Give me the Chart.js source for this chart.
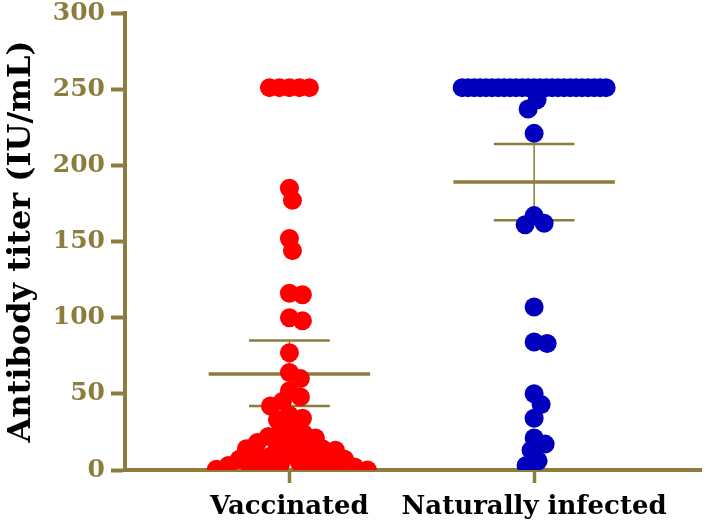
<!DOCTYPE html>
<html>
<head>
<meta charset="utf-8">
<script src="https://cdn.jsdelivr.net/npm/chart.js@4"></script>
<style>
  body { margin: 0; background: #fff; }
</style>
</head>
<body>
<canvas id="myChart" width="711" height="525"></canvas>
<script>
const categories = ['Vaccinated', 'Naturally infected'];

// antibody titers (values above range shown as 251)
const vaccinated = [
  251, 251, 251, 251, 251,
  185, 177, 152, 144, 116, 115, 100, 98, 77, 64, 60, 52, 48, 45, 42,
  36, 34, 33, 28, 25, 24, 22, 21, 19, 18, 16, 15, 14, 14, 13, 10, 10,
  9, 8, 7, 7, 6, 5, 4, 3, 2, 2, 1, 1, 1, 0.5, 0
];
const naturallyInfected = [
  251, 251, 251, 251, 251, 251, 251, 251, 251, 251, 251, 251, 251,
  251, 251, 251, 251, 251, 251, 251, 251, 251, 251, 251, 251,
  243, 237, 221, 167, 162, 161, 107, 84, 83, 50, 43, 34, 21, 17, 13, 6, 3
];

// mean and error bar ends for each group
const means = [63, 189];
const errLow = [42, 164];
const errHigh = [85, 214];

const yTicks = [0, 50, 100, 150, 200, 250, 300];

const olive = '#8c7d3c';
const groupColors = ['#ff0000', '#0000bd'];

Chart.defaults.font.family = "'DejaVu Serif', serif";

// simple beeswarm: equal values in a row, the rest pushed sideways until they fit
const swarm = (values, yScale) => {
  const gap = 12.5;
  const maxHalf = 72;
  const offs = new Array(values.length).fill(0);
  const placed = [];
  const counts = {};
  values.forEach(v => counts[v] = (counts[v] || 0) + 1);
  const done = new Set();
  Object.keys(counts).forEach(key => {
    const n = counts[key];
    if (n < 5) return;
    const sp = Math.min(10, 2 * maxHalf / (n - 1));
    let k = 0;
    values.forEach((v, i) => {
      if (String(v) !== key) return;
      offs[i] = (k - (n - 1) / 2) * sp;
      placed.push({ x: offs[i], y: yScale.getPixelForValue(v) });
      done.add(i);
      k++;
    });
  });
  const order = values.map((v, i) => i).filter(i => !done.has(i)).sort((a, b) => values[b] - values[a]);
  order.forEach(i => {
    const py = yScale.getPixelForValue(values[i]);
    for (let s = 0; s < 300; s++) {
      const dx = s % 2 ? (s + 1) / 2 : -s / 2;
      if (placed.every(p => Math.hypot(p.x - dx, p.y - py) >= gap)) {
        offs[i] = dx;
        placed.push({ x: dx, y: py });
        break;
      }
    }
  });
  return offs;
};

const errorBars = {
  id: 'errorBars',
  beforeDatasetsDraw(chart) {
    const { ctx, scales: { x, y } } = chart;
    const line = (x1, y1, x2, y2, w) => {
      ctx.lineWidth = w;
      ctx.beginPath();
      ctx.moveTo(x1, y1);
      ctx.lineTo(x2, y2);
      ctx.stroke();
    };
    ctx.save();
    ctx.strokeStyle = olive;
    means.forEach((m, i) => {
      const cx = x.getPixelForValue(i);
      line(x.getPixelForValue(i - 0.33), y.getPixelForValue(m), x.getPixelForValue(i + 0.33), y.getPixelForValue(m), 3.5);
      line(x.getPixelForValue(i - 0.165), y.getPixelForValue(errLow[i]), x.getPixelForValue(i + 0.165), y.getPixelForValue(errLow[i]), 2.5);
      line(x.getPixelForValue(i - 0.165), y.getPixelForValue(errHigh[i]), x.getPixelForValue(i + 0.165), y.getPixelForValue(errHigh[i]), 2.5);
      line(cx, y.getPixelForValue(errLow[i]), cx, y.getPixelForValue(errHigh[i]), 1.5);
    });
    ctx.restore();
  }
};

const groups = [vaccinated, naturallyInfected];

const chart = new Chart(document.getElementById('myChart'), {
  type: 'scatter',
  data: {
    datasets: groups.map((vals, i) => ({
      label: categories[i],
      data: vals.map(v => ({ x: i, y: v })),
      backgroundColor: groupColors[i],
      borderColor: groupColors[i],
      borderWidth: 0,
      pointRadius: 9.5,
      pointHoverRadius: 9.5
    }))
  },
  options: {
    responsive: false,
    animation: false,
    layout: { padding: { top: 13, right: 4, bottom: 0, left: 0 } },
    plugins: { legend: { display: false }, tooltip: { enabled: false } },
    scales: {
      x: {
        type: 'linear',
        min: -0.672,
        max: 1.684,
        afterBuildTicks: scale => { scale.ticks = categories.map((c, i) => ({ value: i })); },
        afterFit: scale => { scale.height = 55; },
        ticks: {
          callback: v => categories[v],
          color: '#000',
          padding: 9,
          font: { size: 26, weight: 'bold' }
        },
        grid: { drawOnChartArea: false, drawTicks: true, tickLength: 13, tickWidth: 3.5, tickColor: olive },
        border: { display: true, color: olive, width: 4 }
      },
      y: {
        min: 0,
        max: 300,
        afterBuildTicks: scale => { scale.ticks = yTicks.map(v => ({ value: v })); },
        afterFit: scale => {
          scale.width = 125;
          scale.paddingTop = 0;
          scale.paddingBottom = 0;
        },
        ticks: {
          color: olive,
          padding: 6,
          font: { size: 25, weight: 'bold', lineHeight: 1 }
        },
        grid: { drawOnChartArea: false, drawTicks: true, tickLength: 14, tickWidth: 4, tickColor: olive },
        border: { display: true, color: olive, width: 4 },
        title: {
          display: true,
          text: 'Antibody titer (IU/mL)',
          color: '#000',
          padding: { top: 2, bottom: 0 },
          font: { size: 32, weight: 'bold' }
        }
      }
    }
  },
  plugins: [errorBars]
});

const unit = chart.scales.x.getPixelForValue(1) - chart.scales.x.getPixelForValue(0);
chart.data.datasets.forEach((ds, i) => {
  const offs = swarm(groups[i], chart.scales.y);
  ds.data = groups[i].map((v, k) => ({ x: i + offs[k] / unit, y: v }));
});
chart.update('none');
</script>
</body>
</html>
